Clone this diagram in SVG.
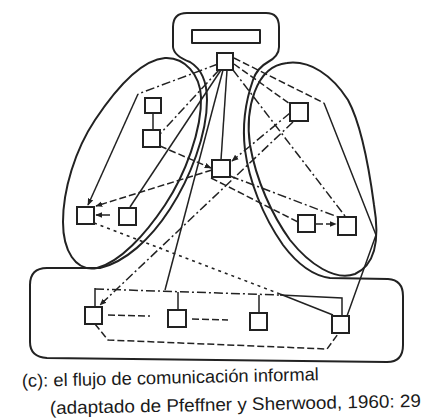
<svg xmlns="http://www.w3.org/2000/svg" width="427" height="420" viewBox="0 0 427 420">
<style>
.bg{fill:#fff}
.o{fill:none;stroke:#222;stroke-width:2;stroke-linejoin:round}
.n{fill:#fff;stroke:#222;stroke-width:2}
.c{fill:none;stroke:#222;stroke-width:1.5}
.s{}
.d{stroke-dasharray:7,3}
.dd{stroke-dasharray:9,3,2,3}
.dt{stroke-dasharray:3,4}
.t{font-family:"Liberation Sans",Arial,sans-serif;font-size:18px;fill:#1a1a1a}
</style>
<defs>
<marker id="ah" viewBox="0 0 10 10" refX="9" refY="5" markerWidth="7" markerHeight="7" markerUnits="userSpaceOnUse" orient="auto"><path d="M0,1 L10,5 L0,9 z" fill="#222"/></marker>
</defs>
<rect class="bg" x="0" y="0" width="427" height="420"/>

<g id="groups">
<path id="left-group" class="o" d="M165,58 C185,57 200,75 201,97 C202,130 185,175 165,205 C145,235 120,262 97,268 C75,272 63,250 63,222 C63,190 75,150 95,120 C115,90 140,60 165,58 Z"/>
<path id="right-group" class="o" d="M287,63 C310,60 332,75 348,100 C360,122 368,160 374,205 C380,240 375,265 355,274 C335,281 310,265 290,240 C272,215 256,180 250,145 C245,110 255,66 287,63 Z"/>
<path id="formal-outline" class="o" d="M173,27 Q173,13 187,13 L266,13 Q279,13 279,27 L279,47 Q279,56 268,62 Q257,68 253,80 C246,100 242,125 245,150 C249,180 262,215 283,245 C298,265 315,276 330,278 L388,279 Q403,280 403,296 L403,345 Q403,362 387,362 L47,358 Q30,357 30,342 L30,285 Q30,268 47,268 L100,268 C125,262 150,240 170,209 C190,178 207,135 207,100 C207,80 200,68 190,62 Q174,56 173,47 Z"/>
<rect id="top-box" class="o" x="192" y="30" width="68" height="13"/>
</g>

<g id="connectors">
<path class="c dd" d="M218,64 L138,94"/>
<path class="c s" d="M138,94 L88,205" marker-end="url(#ah)"/>
<path class="c dd" d="M219,70 L160,134"/>
<path class="c s" d="M221,70 L130,207"/>
<path class="c s" d="M227,70 L221,160"/>
<path class="c s" d="M223,70 L165,290"/>
<path class="c s" d="M153,113 L153,130"/>
<path class="c d" d="M160,146 L211,168" marker-end="url(#ah)"/>
<path class="c d" d="M212,170 L96,206" marker-end="url(#ah)"/>
<path class="c s" d="M110,215 L96,215" marker-end="url(#ah)"/>
<path class="c dt" d="M94,223 L280,294"/>
<path class="c s" d="M280,294 L333,315"/>
<path class="c dd" d="M290,113 L232,161" marker-end="url(#ah)"/>
<path class="c dd" d="M293,122 L100,305" marker-end="url(#ah)"/>
<path class="c dd" d="M233,70 L345,216"/>
<path class="c d" d="M234,64 L290,104"/>
<path class="c d" d="M234,58 L324,103"/>
<path class="c s" d="M324,103 L376,235 L347,316"/>
<path class="c d" d="M211,178 L298,222"/>
<path class="c dd" d="M230,176 L338,217"/>
<path class="c d" d="M316,224 L336,224" marker-end="url(#ah)"/>
<path class="c dd" d="M95,289 L280,295"/>
<path class="c s" d="M95,288 L95,307"/>
<path class="c s" d="M178,292 L178,310"/>
<path class="c s" d="M259,295 L259,313"/>
<path class="c s" d="M280,295 L342,298 L342,316"/>
<path class="c d" d="M108,315 L150,316"/>
<path class="c d" d="M192,319 L228,320"/>
<path class="c d" d="M95,324 L108,340 L327,349 L338,334"/>
</g>

<g id="T"><rect class="n" x="217" y="53" width="16" height="17"/></g>
<g id="L1"><rect class="n" x="145" y="98" width="16" height="15"/></g>
<g id="L2"><rect class="n" x="143" y="130" width="17" height="17"/></g>
<g id="L3"><rect class="n" x="77" y="207" width="17" height="17"/></g>
<g id="L4"><rect class="n" x="119" y="208" width="17" height="17"/></g>
<g id="M"><rect class="n" x="212" y="160" width="18" height="17"/></g>
<g id="R1"><rect class="n" x="290" y="103" width="18" height="18"/></g>
<g id="R2"><rect class="n" x="298" y="215" width="17" height="17"/></g>
<g id="R3"><rect class="n" x="338" y="217" width="18" height="18"/></g>
<g id="B1"><rect class="n" x="85" y="307" width="17" height="17"/></g>
<g id="B2"><rect class="n" x="168" y="310" width="18" height="17"/></g>
<g id="B3"><rect class="n" x="250" y="313" width="17" height="17"/></g>
<g id="B4"><rect class="n" x="332" y="316" width="17" height="17"/></g>

<g id="caption">
<text class="t" x="22" y="387" textLength="297" lengthAdjust="spacingAndGlyphs" transform="rotate(-1.3 22 387)">(c): el flujo de comunicación informal</text>
<text class="t" x="50" y="414" textLength="371" lengthAdjust="spacingAndGlyphs" transform="rotate(-1.1 50 414)">(adaptado de Pfeffner y Sherwood, 1960: 29</text>
</g>
</svg>
